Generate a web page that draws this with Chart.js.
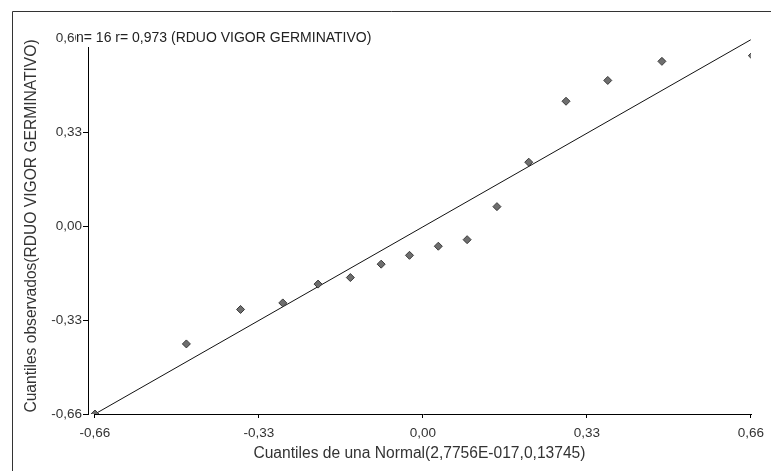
<!DOCTYPE html>
<html>
<head>
<meta charset="utf-8">
<script src="https://cdn.jsdelivr.net/npm/chart.js@4"></script>
<style>
  html, body { margin: 0; padding: 0; background: #fff; }
  #wrap { width: 771px; height: 471px; }
</style>
</head>
<body>
<div id="wrap"><canvas id="qqChart" width="771" height="471"></canvas></div>
<script>
// cuantiles teoricos (normal) y observados del residuo
var cuantilesNormal = [-0.66, -0.476, -0.367, -0.282, -0.211, -0.146, -0.084, -0.027, 0.031, 0.089, 0.149, 0.213, 0.288, 0.372, 0.481, 0.663];
var cuantilesObs = [-0.66, -0.414, -0.293, -0.270, -0.204, -0.181, -0.134, -0.103, -0.071, -0.048, 0.068, 0.224, 0.438, 0.511, 0.578, 0.598];

// recta de referencia
var rectaX = [-0.66, 0.66];
var rectaY = [-0.66, 0.654];

var marcasX = [-0.66, -0.33, 0, 0.33, 0.66];
var marcasY = [-0.66, -0.33, 0, 0.33, 0.66];

var titulo = 'n= 16 r= 0,973 (RDUO VIGOR GERMINATIVO)';
var tituloX = 'Cuantiles de una Normal(2,7756E-017,0,13745)';
var tituloY = 'Cuantiles observados(RDUO VIGOR GERMINATIVO)';

var fuente = "Arial, 'Liberation Sans', sans-serif";

function coma(v){
    return v.toFixed(2).replace('.', ',');
}

var puntos = cuantilesNormal.map(function(x, i){ return {x: x, y: cuantilesObs[i]}; });
var recta = rectaX.map(function(x, i){ return {x: x, y: rectaY[i]}; });

// marco, eje x y rotulo superior
const marco = {
    id: 'marco',
    beforeDraw: function(chart){
        const ctx = chart.ctx;
        ctx.save();
        ctx.fillStyle = '#fff';
        ctx.fillRect(0, 0, chart.width, chart.height);
        ctx.strokeStyle = '#333';
        ctx.lineWidth = 1;
        ctx.beginPath();
        ctx.moveTo(12.5, chart.height);
        ctx.lineTo(12.5, 11.5);
        ctx.lineTo(chart.width, 11.5);
        ctx.stroke();
        ctx.restore();
    },
    afterDraw: function(chart){
        const ctx = chart.ctx;
        const sx = chart.scales.x;
        const y0 = Math.round(chart.chartArea.bottom) + 0.5;
        ctx.save();
        ctx.strokeStyle = '#000';
        ctx.lineWidth = 1;
        ctx.beginPath();
        ctx.moveTo(Math.round(sx.getPixelForValue(marcasX[0])), y0);
        ctx.lineTo(Math.round(sx.getPixelForValue(marcasX[marcasX.length - 1])) + 1, y0);
        ctx.stroke();

        ctx.font = '14px ' + fuente;
        const w = ctx.measureText(titulo).width;
        ctx.fillStyle = '#fff';
        ctx.fillRect(76, 27, w + 3, 20);
        ctx.fillStyle = '#222';
        ctx.textBaseline = 'alphabetic';
        ctx.fillText(titulo, 76, 42);
        ctx.restore();
    }
};

new Chart(document.getElementById('qqChart'), {
    type: 'scatter',
    data: {
        datasets: [{
            data: puntos,
            pointStyle: 'rectRot',
            pointRadius: 4,
            backgroundColor: '#6e6e6e',
            borderColor: '#3a3a3a',
            borderWidth: 1
        }, {
            type: 'line',
            data: recta,
            showLine: true,
            pointRadius: 0,
            borderColor: '#111',
            borderWidth: 1,
            fill: false
        }]
    },
    options: {
        animation: false,
        responsive: false,
        layout: { padding: { left: 0, right: 19, top: 38, bottom: 0 } },
        plugins: {
            legend: { display: false },
            tooltip: { enabled: false }
        },
        scales: {
            x: {
                type: 'linear',
                min: -0.674,
                max: 0.66,
                afterFit: function(s){ s.height = 57; },
                afterBuildTicks: function(s){ s.ticks = marcasX.map(function(v){ return {value: v}; }); },
                border: { display: false },
                grid: { drawOnChartArea: false, drawTicks: true, tickLength: 4, color: '#000' },
                ticks: {
                    padding: 7,
                    color: '#333',
                    font: { family: fuente, size: 13.5 },
                    maxRotation: 0,
                    callback: function(v){ return coma(v); }
                },
                title: {
                    display: true,
                    text: tituloX,
                    color: '#333',
                    font: { family: fuente, size: 15.6 },
                    padding: { top: 0, bottom: 8 }
                }
            },
            y: {
                type: 'linear',
                min: -0.66,
                max: 0.66,
                afterFit: function(s){ s.width = 88; },
                afterBuildTicks: function(s){ s.ticks = marcasY.map(function(v){ return {value: v}; }); },
                border: { display: true, color: '#000', width: 1 },
                grid: { drawOnChartArea: false, drawTicks: true, tickLength: 5, color: '#000' },
                ticks: {
                    padding: 1,
                    color: '#333',
                    font: { family: fuente, size: 13.5 },
                    callback: function(v){ return coma(v); }
                },
                title: {
                    display: true,
                    text: tituloY,
                    color: '#333',
                    font: { family: fuente, size: 15.6 },
                    padding: { top: 22, bottom: 0 }
                }
            }
        }
    },
    plugins: [marco]
});
</script>
</body>
</html>
